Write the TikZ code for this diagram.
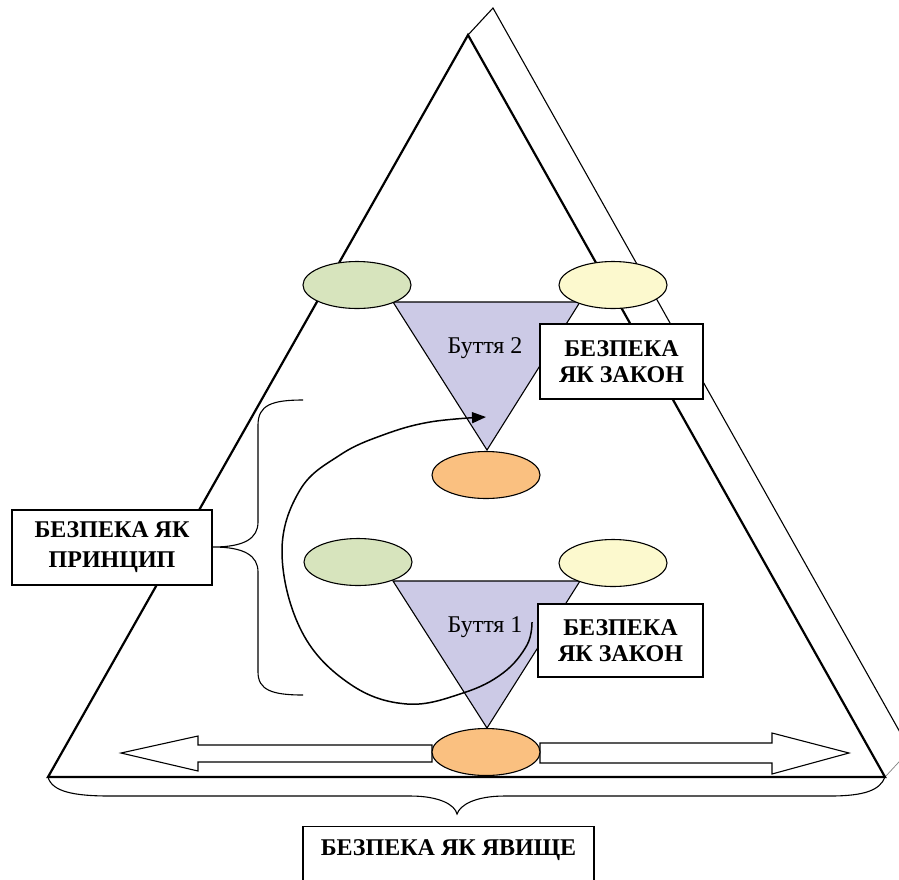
\documentclass[tikz,border=0pt]{standalone}
\usepackage{fontspec}
\setmainfont{Liberation Serif}
\usetikzlibrary{shapes.geometric,arrows.meta}
\definecolor{cgreen}{HTML}{D7E4BD}
\definecolor{cyellow}{HTML}{FCF9CE}
\definecolor{cpurple}{HTML}{CCCAE6}
\definecolor{corange}{HTML}{FAC080}
\tikzset{
  oval/.style={ellipse,draw,line width=1.1pt,minimum width=108pt,minimum height=47pt,inner sep=0pt},
  lawbox/.style={draw,fill=white,line width=1.1pt,inner sep=0pt,align=center,font=\fontsize{24}{26.5}\selectfont\bfseries},
  plaintxt/.style={inner sep=0pt,font=\fontsize{24}{26}\selectfont},
  btri/.style={draw,fill=cpurple,line width=1.1pt,line join=miter},
  blockarrow/.style={draw,fill=white,line width=1.1pt},
  brace/.style={draw,line width=1.1pt},
}
\begin{document}
\begin{tikzpicture}[x=1pt,y=-1pt]
\useasboundingbox (0,0) rectangle (899,879);
% back face
\coordinate (apex) at (468,35);
\coordinate (bl) at (48,777);
\coordinate (br) at (885,777);
\coordinate (bapex) at (493,8);
\coordinate (bbr) at (910,750);
\draw[line width=1.1pt] (apex) -- (bapex) -- (bbr);
\draw[line width=0.7pt,gray] (br) -- (bbr);
% main triangle
\draw[line width=2.2pt,fill=white,line join=miter] (apex) -- (bl) -- (br) -- cycle;
% purple triangles
\coordinate (t2a) at (393,302); \coordinate (t2b) at (580,302); \coordinate (t2c) at (487,450);
\coordinate (t1a) at (393,581); \coordinate (t1b) at (580,581); \coordinate (t1c) at (487,728);
\path[btri] (t2a) -- (t2b) -- (t2c) -- cycle;
\path[btri] (t1a) -- (t1b) -- (t1c) -- cycle;
% ellipses
\node[oval,fill=cgreen] (g2) at (357,285) {};
\node[oval,fill=cyellow] (y2) at (613,285) {};
\node[oval,fill=corange] (o2) at (486,475) {};
\node[oval,fill=cgreen] (g1) at (358,562) {};
\node[oval,fill=cyellow] (y1) at (613,563) {};
% texts in triangles
\node[plaintxt] (b2) at (485,348) {Буття 2};
\node[plaintxt] (b1) at (485,627) {Буття 1};
% boxes
\node[lawbox,minimum width=163pt,minimum height=75pt] (law2) at (621.5,361.5) {БЕЗПЕКА\\ЯК ЗАКОН};
\node[lawbox,minimum width=165pt,minimum height=73pt] (law1) at (620.5,640.5) {БЕЗПЕКА\\ЯК ЗАКОН};
\node[lawbox,minimum width=200pt,minimum height=75pt,font=\fontsize{24}{30}\selectfont\bfseries] (princ) at (112,547.5) {БЕЗПЕКА ЯК\\ПРИНЦИП};
\node[lawbox,minimum width=291pt,minimum height=66pt,anchor=north] (phenbox) at (448.5,826) {};
\node[inner sep=0pt,font=\fontsize{24}{26}\selectfont\bfseries] (phen) at (448.5,850) {БЕЗПЕКА ЯК ЯВИЩЕ};
% block arrows
\draw[blockarrow] (432,745) -- (198,745) -- (198,736) -- (121,753) -- (198,771) -- (198,762) -- (432,762) -- cycle;
\draw[blockarrow] (540,743) -- (772,743) -- (772,733) -- (849,753) -- (772,774) -- (772,763) -- (540,763) -- cycle;
\node[oval,fill=corange] (o0) at (486,752) {};
% braces
\draw[brace] (303,400) .. controls (272,400) and (258,405) .. (258,425) -- (258,522) .. controls (258,538) and (245,547) .. (213,547) .. controls (245,547) and (258,556) .. (258,572) -- (258,672) .. controls (258,690) and (272,695) .. (303,695);
\draw[brace] (bl) .. controls (52,792) and (75,796) .. (110,796) -- (410,796) .. controls (440,796) and (455,805) .. (457,814) .. controls (460,805) and (475,796) .. (505,796) -- (830,796) .. controls (865,796) and (880,790) .. (br);
% curved arrow
\draw[line width=1.5pt,-{Triangle[length=14pt,width=11pt]}] plot[smooth,tension=0.65] coordinates {(532,622) (527,645) (503,673) (463,693) (407,704) (350,684) (302,632) (282,553) (300,490) (340,455) (383,435) (430,422) (486,417)};
\end{tikzpicture}
\end{document}
